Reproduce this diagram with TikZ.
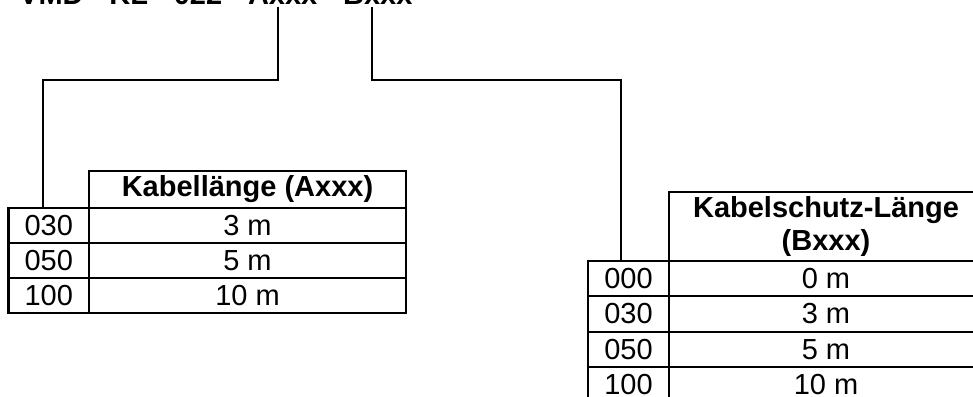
\documentclass[tikz,border=0pt]{standalone}
\usepackage{fontspec}
\setmainfont{Liberation Sans}
\usetikzlibrary{calc}
\tikzset{
  code/.style={font=\bfseries\fontsize{29}{33}\selectfont, inner sep=0pt, outer sep=0pt},
  cell/.style={draw, line width=2.2pt, inner sep=0pt, outer sep=0pt, anchor=north west,
               font=\fontsize{29}{33.4}\selectfont},
  keycell/.style={cell, minimum width=80.5pt, minimum height=35pt},
  valcell/.style={cell, minimum width=317pt, minimum height=35pt},
  hdrA/.style={cell, font=\bfseries\fontsize{29}{33.4}\selectfont, minimum width=317pt, minimum height=37pt},
  keycellB/.style={cell, minimum width=81pt, minimum height=35.3pt},
  valcellB/.style={cell, minimum width=314pt, minimum height=35.3pt},
  hdrB/.style={cell, font=\bfseries\fontsize{29}{33.4}\selectfont, align=center, minimum width=314pt, minimum height=69pt},
  conn/.style={draw, line width=1.5pt}
}
\begin{document}
\begin{tikzpicture}[x=1pt, y=-1pt]
\path[use as bounding box, fill=white] (0,0) rectangle (973,396);
\clip (0,0) rectangle (973,396);

% code line (cropped at top, as in the reference)
\node[code, anchor=base west] (ax) at (248,5) {Axxx};
\node[code, anchor=base east] (pre) at ([xshift=-8.06pt]ax.base west) {VMD - KL - 022 -};
\node[code, anchor=base west] (bx) at ([xshift=25.8pt]ax.base east) {Bxxx};
\node[code, anchor=base] (sep) at ($(ax.base east)!0.5!(bx.base west)$) {-};

% table A
\node[hdrA] (a0) at (89,171) {Kabellänge (Axxx)};
\node[keycell] (a1c) at (8.5,208) {030};
\node[valcell] (a1v) at (89,208) {3 m};
\node[keycell] (a2c) at (8.5,243) {050};
\node[valcell] (a2v) at (89,243) {5 m};
\node[keycell] (a3c) at (8.5,278) {100};
\node[valcell] (a3v) at (89,278) {10 m};

% table B
\node[hdrB] (b0) at (669,192) {Kabelschutz-Länge\\(Bxxx)};
\node[keycellB] (b1c) at (588,261) {000};
\node[valcellB] (b1v) at (669,261) {0 m};
\node[keycellB] (b2c) at (588,296.3) {030};
\node[valcellB] (b2v) at (669,296.3) {3 m};
\node[keycellB] (b3c) at (588,331.6) {050};
\node[valcellB] (b3v) at (669,331.6) {5 m};
\node[keycellB] (b4c) at (588,366.9) {100};
\node[valcellB] (b4v) at (669,366.9) {10 m};

% connectors
\coordinate (ja) at (43,80);
\coordinate (jb) at (621,80);
\draw[conn] ([xshift=-4.6pt,yshift=-2pt]ax.south) |- (ja) -- (ja |- a1c.north);
\draw[conn] ([xshift=-5.8pt,yshift=-2pt]bx.south) |- (jb) -- (jb |- b1c.north);
\end{tikzpicture}
\end{document}
